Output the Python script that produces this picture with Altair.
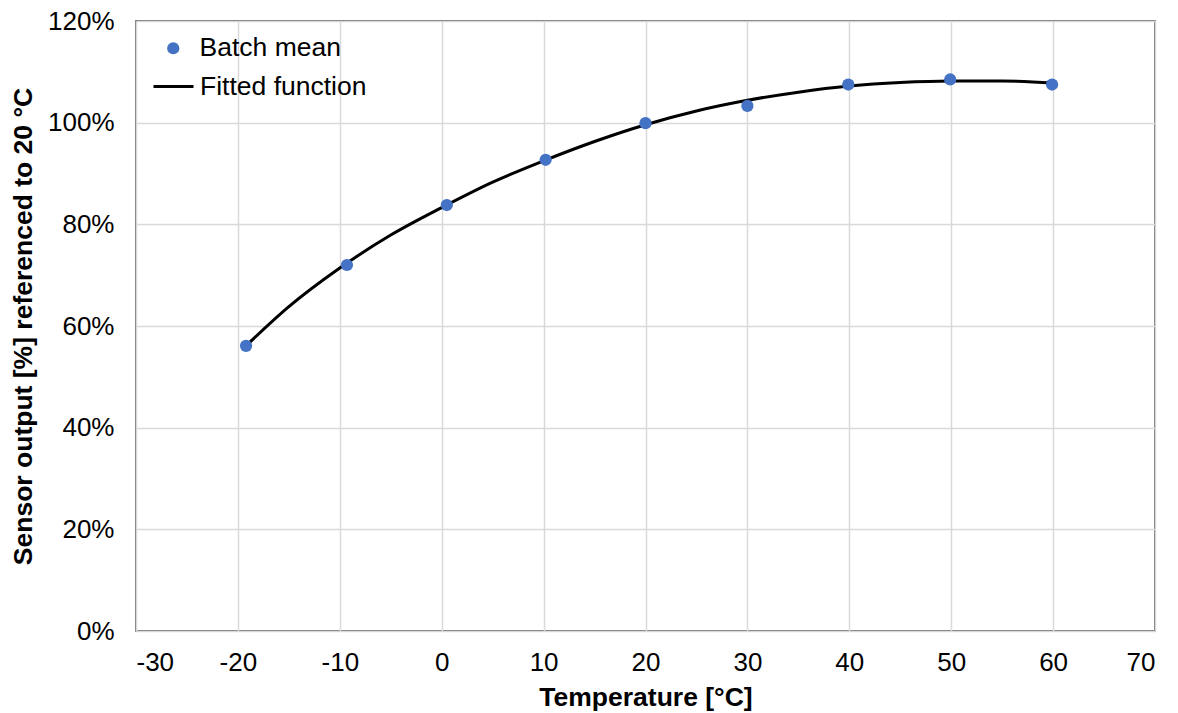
import altair as alt
import pandas as pd

# Batch mean points
temp_pts = [-19.2, -9.3, 0.5, 10.2, 20.0, 30.0, 39.9, 49.9, 59.9]
out_pts = [56.1, 72.0, 83.8, 92.7, 99.9, 103.3, 107.5, 108.5, 107.5]

# Fitted function
temp_fit = [-19.2, -15, -10, -5, 0, 5, 10, 15, 20, 25, 30, 35, 40, 45, 50, 55, 60]
out_fit = [56.1, 63.8, 71.4, 77.9, 83.3, 88.3, 92.5, 96.3, 99.6, 102.3, 104.4, 106.0, 107.2, 107.9, 108.2, 108.2, 107.8]

x_ticks = [-30, -20, -10, 0, 10, 20, 30, 40, 50, 60, 70]
y_ticks = [0, 20, 40, 60, 80, 100, 120]

pts = pd.DataFrame({"t": temp_pts, "v": out_pts, "s": ["Batch mean"] * len(temp_pts)})
fit = pd.DataFrame({"t": temp_fit, "v": out_fit, "s": ["Fitted function"] * len(temp_fit)})

FONT = "Liberation Sans"

xenc = alt.X("t:Q", scale=alt.Scale(domain=[-30, 70], nice=False),
             axis=alt.Axis(values=x_ticks, title="Temperature [°C]",
                           labelExpr="'' + datum.value"))
yenc = alt.Y("v:Q", scale=alt.Scale(domain=[0, 120], nice=False),
             axis=alt.Axis(values=y_ticks, title="Sensor output [%] referenced to 20 °C",
                           labelExpr="datum.value + '%'"))

line = alt.Chart(fit).mark_line(strokeWidth=3, interpolate="monotone").encode(
    x=xenc, y=yenc,
    color=alt.Color("s:N", scale=alt.Scale(domain=["Fitted function"], range=["#000000"]),
                    legend=alt.Legend(title=None, orient="none", legendX=16, legendY=44,
                                      symbolType="stroke", symbolSize=1600, symbolStrokeWidth=3,
                                      labelFontSize=26.5, labelFont=FONT, labelColor="#000000",
                                      labelOffset=5, labelLimit=400)),
)

points = alt.Chart(pts).mark_point(filled=True, size=150, opacity=1).encode(
    x=xenc, y=yenc,
    color=alt.Color("s:N", scale=alt.Scale(domain=["Batch mean"], range=["#4472C4"]),
                    legend=alt.Legend(title=None, orient="none", legendX=24, legendY=14,
                                      symbolType="circle", symbolSize=150, symbolOpacity=1,
                                      labelFontSize=26.5, labelFont=FONT, labelColor="#000000",
                                      labelOffset=13, labelLimit=400)),
)

chart = alt.layer(line, points).resolve_scale(color="independent").properties(
    width=1019, height=610,
    autosize=alt.AutoSizeParams(type="none"),
    padding={"left": 128, "top": 13, "right": 15, "bottom": 80},
).configure_view(stroke="#404040", strokeWidth=1.5).configure_axis(
    grid=True, gridColor="#d9d9d9", gridWidth=1.5, domain=False, ticks=False,
    labelFont=FONT, labelFontSize=26, labelColor="#000000",
    titleFont=FONT, titleFontSize=26.5, titleFontWeight="bold", titleColor="#000000",
).configure_axisX(labelPadding=18, titlePadding=9).configure_axisY(labelPadding=22, titlePadding=10)

chart.save("out.html", embed_options={"renderer": "svg", "actions": False})
